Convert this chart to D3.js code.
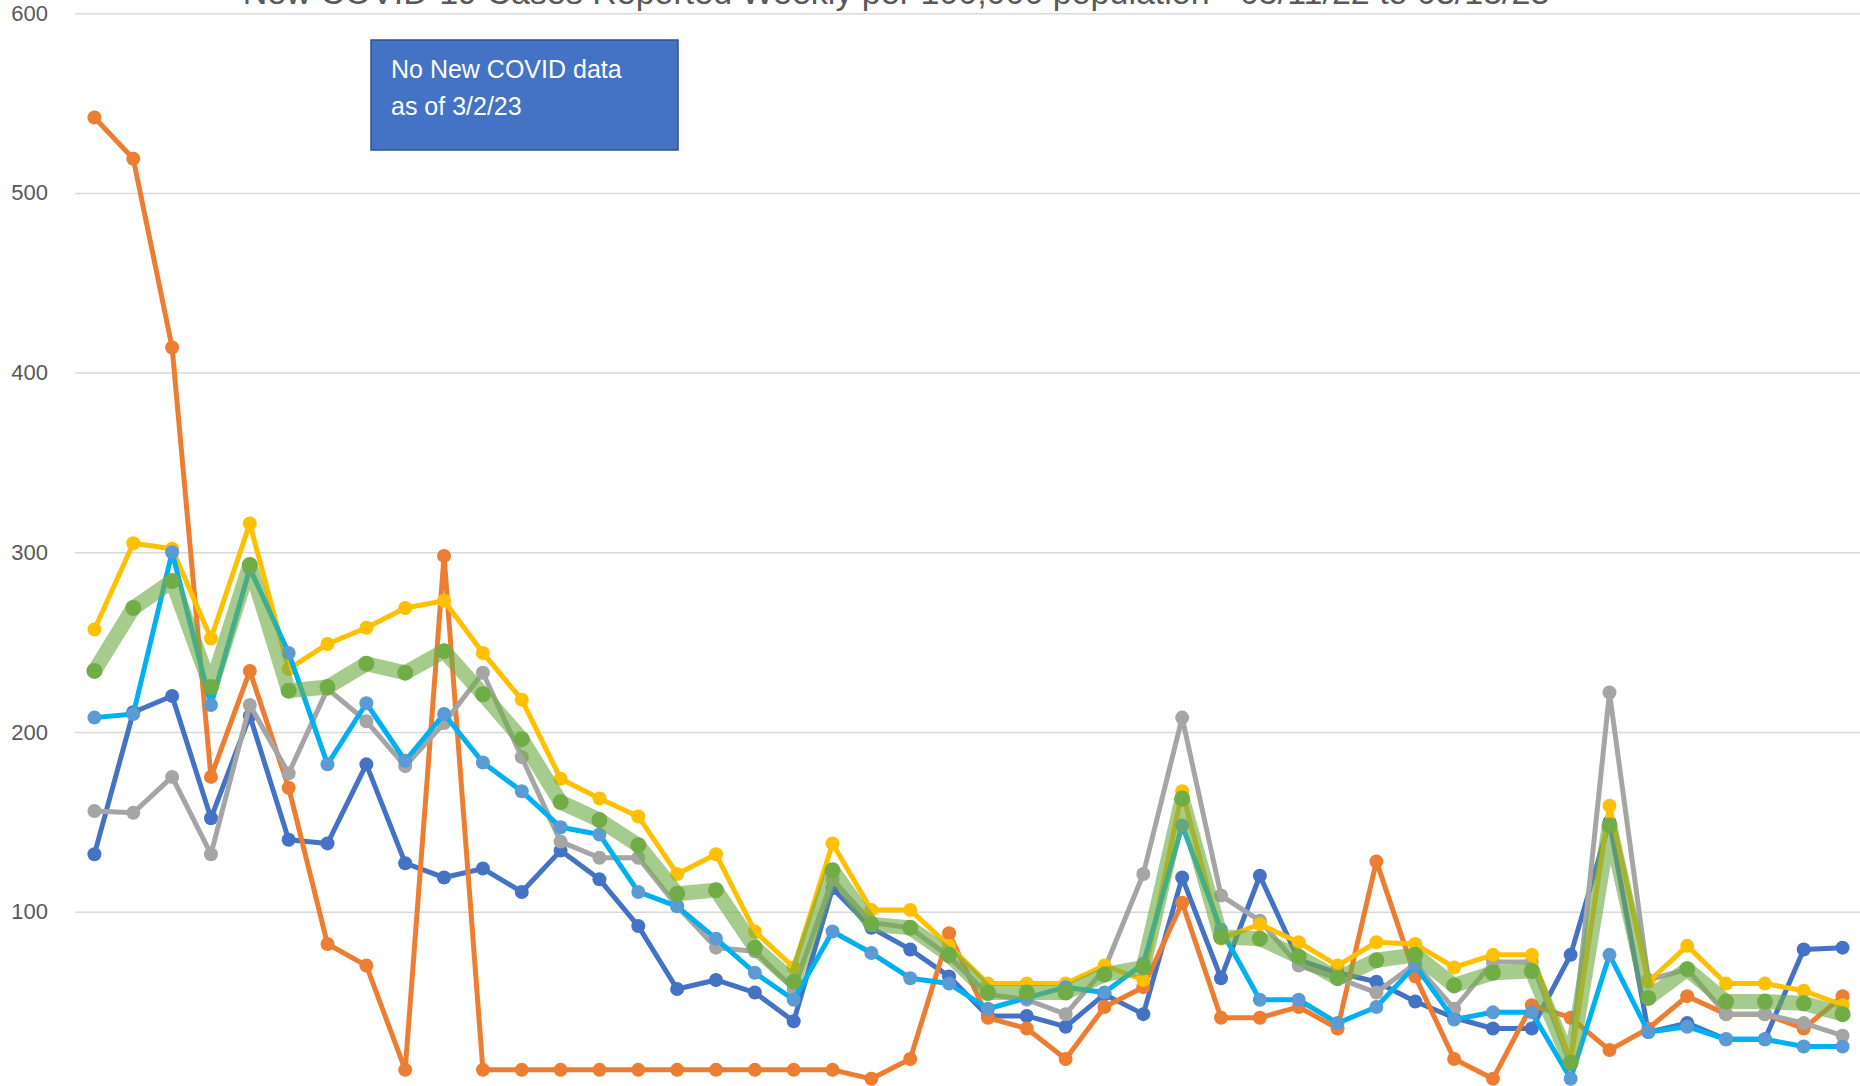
<!DOCTYPE html>
<html>
<head>
<meta charset="utf-8">
<script src="https://cdn.jsdelivr.net/npm/d3@7"></script>
<style>
  body { margin: 0; background: #ffffff; }
  svg { display: block; }
</style>
</head>
<body>
<script>
// weeks (x axis is below the visible area in the original)
const weeks = ["05/11/22","05/18/22","05/25/22","06/01/22","06/08/22","06/15/22","06/22/22","06/29/22",
  "07/06/22","07/13/22","07/20/22","07/27/22","08/03/22","08/10/22","08/17/22","08/24/22","08/31/22",
  "09/07/22","09/14/22","09/21/22","09/28/22","10/05/22","10/12/22","10/19/22","10/26/22","11/02/22",
  "11/09/22","11/16/22","11/23/22","11/30/22","12/07/22","12/14/22","12/21/22","12/28/22","01/04/23",
  "01/11/23","01/18/23","01/25/23","02/01/23","02/08/23","02/15/23","02/22/23","03/01/23","03/08/23",
  "03/15/23","03/22/23"];

const blueVals = [132,211,220,152,209,140,138,182,127,119,124,111,134,118,92,57,62,55,39,113,91,79,64,42,42,36,
  54,43,119,63,120,73,66,61,50,41,35,35,76,150,33,38,29,29,79,80];
const orangeVals = [542,519,414,175,234,169,82,70,12,298,12,12,12,12,12,12,12,12,12,12,7,18,88,41,35,18,
  47,58,105,41,41,47,35,128,64,18,7,48,41,23,35,53,43,43,35,53];
const grayVals = [156,155,175,132,215,177,224,206,181,205,233,186,139,130,130,103,80,78,57,118,94,91,75,54,51,43,
  68,121,208,109,95,70,63,55,71,46,72,72,15,222,62,68,43,43,38,31];
const yellowVals = [257,305,302,252,316,235,249,258,269,273,244,218,174,163,153,121,132,89,69,138,101,101,81,60,60,60,
  70,62,167,85,93,83,70,83,82,69,76,76,17,159,61,81,60,60,56,48];
const cyanVals = [208,210,300,215,291,244,182,216,184,210,183,167,147,143,111,103,85,66,51,89,77,63,60,46,52,58,
  55,71,148,90,51,51,38,47,70,40,44,44,7,76,33,36,29,29,25,25];
const greenVals = [234,269,284,225,293,223,225,238,233,245,221,196,161,151,137,110,112,80,61,123,93,91,76,55,55,55,
  65,69,163,86,85,75,63,73,76,59,66,67,16,148,52,68,50,50,49,43];

// the 0 gridline sits just below the bottom edge
const yTicks = [100,200,300,400,500,600];

const titre = "New COVID-19 Cases Reported Weekly per 100,000 population - 05/11/22 to 03/15/23";
const note = ["No New COVID data", "as of 3/2/23"];

const largeur = 1860;
const hauteur = 1086;

let canevas = d3.select("body")
    .append("svg")
    .attr("width", largeur)
    .attr("height", hauteur)
    .style("font-family", "'Liberation Sans', Arial, sans-serif");

canevas.append("rect")
    .attr("width", largeur)
    .attr("height", hauteur)
    .attr("fill", "#ffffff");

// échelles
const x = d3.scaleBand()
    .domain(weeks)
    .range([75, 1862]);
const y = d3.scaleLinear()
    .domain([0, 600])
    .range([1091.4, 13.2]);

const cx = d => x(d) + x.bandwidth() / 2;

// axe y + grille
const axeY = canevas.append("g")
    .attr("transform", "translate(75,0)")
    .call(d3.axisLeft(y).tickValues(yTicks).tickSize(-1787).tickPadding(27));
axeY.select(".domain").remove();
axeY.selectAll(".tick line")
    .attr("stroke", "#d9d9d9")
    .attr("stroke-width", 1.5);
axeY.selectAll(".tick text")
    .style("font-size", "22px")
    .style("font-family", "'Liberation Sans', Arial, sans-serif")
    .attr("fill", "#595959");

// titre (coupé en haut)
canevas.append("text")
    .attr("x", 896)
    .attr("y", 4)
    .attr("text-anchor", "middle")
    .style("font-size", "34px")
    .attr("fill", "#595959")
    .text(titre);

// séries
const series = [
  { vals: blueVals, line: "#4472c4", marker: "#4472c4", w: 5, r: 7, op: 1 },
  { vals: orangeVals, line: "#ed7d31", marker: "#ed7d31", w: 5, r: 7, op: 1 },
  { vals: grayVals, line: "#a5a5a5", marker: "#a5a5a5", w: 5, r: 7, op: 1 },
  { vals: yellowVals, line: "#ffc000", marker: "#ffc000", w: 5, r: 7, op: 1 },
  { vals: cyanVals, line: "#00b0f0", marker: "#5b9bd5", w: 5, r: 7, op: 1 },
  { vals: greenVals, line: "#70ad47", marker: "#70ad47", w: 15, r: 8, op: 0.62 }
];

const ligne = d3.line()
    .x((d, i) => cx(weeks[i]))
    .y(d => y(d));

series.forEach(s => {
  const g = canevas.append("g");
  g.append("path")
    .datum(s.vals)
    .attr("d", ligne)
    .attr("fill", "none")
    .attr("stroke", s.line)
    .attr("stroke-width", s.w)
    .attr("stroke-linejoin", "round")
    .attr("stroke-linecap", "round")
    .attr("opacity", s.op);
  g.selectAll("circle")
    .data(s.vals)
    .enter()
    .append("circle")
    .attr("cx", (d, i) => cx(weeks[i]))
    .attr("cy", d => y(d))
    .attr("r", s.r)
    .attr("fill", s.marker);
});

// zone de texte
canevas.append("rect")
    .attr("x", 371)
    .attr("y", 40)
    .attr("width", 307)
    .attr("height", 110)
    .attr("fill", "#4472c4")
    .attr("stroke", "#2f528f")
    .attr("stroke-width", 1.5);

canevas.selectAll("text.note")
    .data(note)
    .enter().append("text")
    .attr("class", "note")
    .attr("x", 391)
    .attr("y", (d, i) => 78 + i * 37)
    .attr("fill", "#ffffff")
    .style("font-size", "25px")
    .text(d => d);
</script>
</body>
</html>
